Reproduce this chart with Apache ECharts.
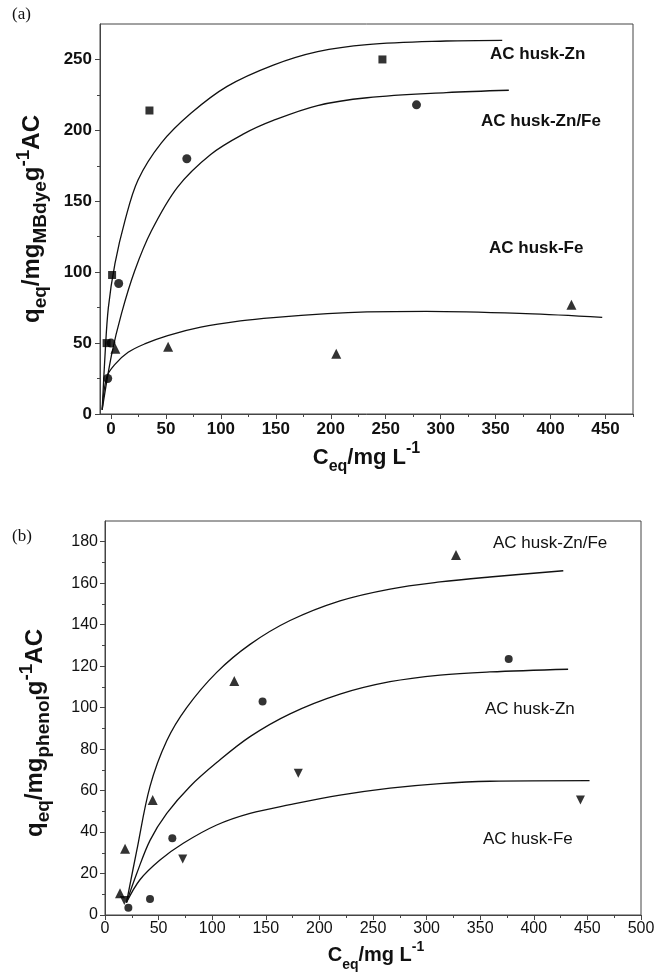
<!DOCTYPE html>
<html><head><meta charset="utf-8">
<script src="https://cdn.jsdelivr.net/npm/echarts@6/dist/echarts.min.js"></script>
<style>html,body{margin:0;padding:0;background:#fff}#c{width:661px;height:979px}</style>
</head><body><div id="c"></div>
<script>
// ---------- Panel (a): MB dye ----------
const aXMajor = [0, 50, 100, 150, 200, 250, 300, 350, 400, 450];
const aXMinor = [25, 75, 125, 175, 225, 275, 325, 375, 425, 475];
const aYMajor = [0, 50, 100, 150, 200, 250];
const aYMinor = [25, 75, 125, 175, 225];
const aZnPts   = [[-4, 50], [1, 98], [35, 214], [247, 250]];
const aZnFePts = [[-3, 25], [0, 50], [7, 92], [69, 180], [278, 218]];
const aFePts   = [[4, 46], [52, 47.5], [205, 42.5], [419, 77]];
const aZnFit   = [[-8, 3], [-5.4, 42], [-2.4, 75], [3.6, 106], [12.6, 136], [24.6, 165], [45.7, 191], [72.7, 212], [105.7, 231], [147.7, 246], [188, 255.5], [233, 260.5], [305, 263], [356, 263.5]];
const aZnFeFit = [[-8, 3], [0.6, 42], [9.6, 71], [21.6, 101], [36.7, 129], [60.6, 160], [90.7, 183], [120.7, 197.5], [147.7, 207], [188, 217.5], [233, 223], [305, 226.6], [362, 228.3]];
const aFeFit   = [[-8, 3], [-3.9, 26], [3.6, 35], [15.6, 43.5], [30.6, 49.4], [51.6, 55.3], [81.7, 61.2], [117.7, 65.6], [147.7, 68], [197, 70.8], [233, 72], [287, 72.4], [377.5, 70.8], [447, 68.2]];

// ---------- Panel (b): phenol ----------
const bXMajor = [0, 50, 100, 150, 200, 250, 300, 350, 400, 450, 500];
const bXMinor = [25, 75, 125, 175, 225, 275, 325, 375, 425, 475];
const bYMajor = [0, 20, 40, 60, 80, 100, 120, 140, 160, 180];
const bYMinor = [10, 30, 50, 70, 90, 110, 130, 150, 170];
const bZnFePts = [[14, 10.5], [18.7, 32], [44.5, 55.5], [120.6, 112.8], [327.4, 173.6]];
const bZnPts   = [[21.8, 3.5], [42, 7.7], [62.8, 37], [147, 103], [376.6, 123.4]];
const bFePts   = [[18, 7], [72.5, 27], [180.3, 68.3], [443.5, 55.4]];
const bZnFeFit = [[20, 6], [29.6, 31], [42, 62], [57.6, 84], [76.2, 100], [104.2, 117], [135.3, 130.5], [172.6, 142], [219.2, 151.5], [265.9, 157.2], [312.5, 160.6], [359, 163], [427.5, 166]];
const bZnFit   = [[20, 6], [29.6, 20], [42, 36], [57.6, 49], [79.3, 62], [104.2, 73.5], [135.3, 86], [172.6, 97], [219.2, 106.5], [265.9, 112.5], [312.5, 115.7], [359, 117.2], [432, 118.5]];
const bFeFit   = [[20, 6], [32.6, 17], [51.3, 26.5], [73, 34.6], [104.2, 43.4], [135.3, 49], [172.6, 53.2], [219.2, 57.8], [265.9, 61.2], [312.5, 63.4], [359, 64.5], [452, 64.8]];

const FONT = '"Liberation Sans", Arial, sans-serif';
const INK = '#111';
const FRAME = '#444';

function axisPair(gridIndex, dim, min, max, major, minor, labelStyle, name, nameGap, nameRich, namePad) {
  const main = {
    type: 'value', gridIndex, min, max,
    axisLine: { show: true, onZero: false, lineStyle: { color: FRAME, width: 1 } },
    axisTick: { show: true, inside: false, length: 5, customValues: major, lineStyle: { color: FRAME } },
    axisLabel: Object.assign({ customValues: major, color: INK, fontFamily: FONT }, labelStyle),
    splitLine: { show: false },
    name, nameLocation: 'middle', nameGap,
    nameTextStyle: { rich: nameRich, fontFamily: FONT, color: INK, padding: namePad || 0 }
  };
  if (dim === 'y') main.nameRotate = 90;
  const sub = {
    type: 'value', gridIndex, min, max,
    position: dim === 'x' ? 'bottom' : 'left',
    axisLine: { show: false, onZero: false },
    axisTick: { show: true, inside: false, length: 3, customValues: minor, lineStyle: { color: FRAME } },
    axisLabel: { show: false },
    splitLine: { show: false }
  };
  return [main, sub];
}

function richSet(size, subSize) {
  return {
    n:   { fontSize: size, fontWeight: 'bold', fontFamily: FONT, color: INK, lineHeight: size + 16, verticalAlign: 'middle' },
    sub: { fontSize: subSize, fontWeight: 'bold', fontFamily: FONT, color: INK, lineHeight: size + 16, verticalAlign: 'bottom', padding: [0, 0, 2, 0] },
    sup: { fontSize: subSize, fontWeight: 'bold', fontFamily: FONT, color: INK, lineHeight: size + 16, verticalAlign: 'top', padding: [2, 0, 0, 0] }
  };
}

const [ax0, ax1] = axisPair(0, 'x', -10, 475, aXMajor, aXMinor, { fontSize: 17, fontWeight: 'bold', margin: 7 },
  '{n|C}{sub|eq}{n|/mg L}{sup|-1}', 18, richSet(22, 16));
const [ay0, ay1] = axisPair(0, 'y', 0, 275, aYMajor, aYMinor, { fontSize: 17, fontWeight: 'bold', margin: 8 },
  '{n|q}{sub|eq}{n|/mg}{sub|MBdye}{n|g}{sup|-1}{n|AC}', 46, richSet(24, 19));
const [bx0, bx1] = axisPair(1, 'x', 0, 500, bXMajor, bXMinor, { fontSize: 16, margin: 6 },
  '{n|C}{sub|eq}{n|/mg L}{sup|-1}', 22, richSet(20, 14), [0, 0, 0, 6]);
const [by0, by1] = axisPair(1, 'y', 0, 190, bYMajor, bYMinor, { fontSize: 16, margin: 7 },
  '{n|q}{sub|eq}{n|/mg}{sub|phenol}{n|g}{sup|-1}{n|AC}', 50, richSet(24, 19), [0, 30, 0, 0]);

function fit(data, xi, yi) {
  return { type: 'line', data, xAxisIndex: xi, yAxisIndex: yi, smooth: 0.35, showSymbol: false, silent: true,
    lineStyle: { color: INK, width: 1.3 }, z: 2 };
}
function pts(data, xi, yi, symbol, size, rot) {
  return { type: 'scatter', data, xAxisIndex: xi, yAxisIndex: yi, symbol, symbolSize: size, symbolRotate: rot || 0,
    itemStyle: { color: '#000' }, z: 3, silent: true };
}

const labA = { fontSize: 17, fontWeight: 'bold', fontFamily: FONT, fill: INK };
const labB = { fontSize: 17, fontWeight: 'normal', fontFamily: FONT, fill: INK };

const option = {
  backgroundColor: '#fff',
  animation: false,
  grid: [
    { left: 100, top: 24, width: 533, height: 390, show: true, borderColor: FRAME, borderWidth: 1, containLabel: false },
    { left: 105, top: 521, width: 536, height: 394, show: true, borderColor: FRAME, borderWidth: 1, containLabel: false }
  ],
  xAxis: [ax0, ax1, bx0, bx1],
  yAxis: [ay0, ay1, by0, by1],
  series: [
    fit(aZnFit, 0, 0), fit(aZnFeFit, 0, 0), fit(aFeFit, 0, 0),
    pts(aZnPts, 0, 0, 'rect', 8), pts(aZnFePts, 0, 0, 'circle', 9), pts(aFePts, 0, 0, 'triangle', 10),
    fit(bZnFeFit, 2, 2), fit(bZnFit, 2, 2), fit(bFeFit, 2, 2),
    pts(bZnFePts, 2, 2, 'triangle', 10), pts(bZnPts, 2, 2, 'circle', 8), pts(bFePts, 2, 2, 'triangle', 9, 180)
  ],
  graphic: [
    { type: 'text', left: 12, top: 6, style: { text: '(a)', fontSize: 17, fontFamily: '"Liberation Serif", "Times New Roman", serif', fill: INK } },
    { type: 'text', left: 12, top: 528, style: { text: '(b)', fontSize: 17, fontFamily: '"Liberation Serif", "Times New Roman", serif', fill: INK } },
    { type: 'text', left: 490, top: 46, style: Object.assign({ text: 'AC husk-Zn' }, labA) },
    { type: 'text', left: 481, top: 113, style: Object.assign({ text: 'AC husk-Zn/Fe' }, labA) },
    { type: 'text', left: 489, top: 240, style: Object.assign({ text: 'AC husk-Fe' }, labA) },
    { type: 'text', left: 493, top: 535, style: Object.assign({ text: 'AC husk-Zn/Fe' }, labB) },
    { type: 'text', left: 485, top: 701, style: Object.assign({ text: 'AC husk-Zn' }, labB) },
    { type: 'text', left: 483, top: 831, style: Object.assign({ text: 'AC husk-Fe' }, labB) }
  ]
};

const chart = echarts.init(document.getElementById('c'), null, { renderer: 'canvas' });
chart.setOption(option);
</script>
</body></html>
